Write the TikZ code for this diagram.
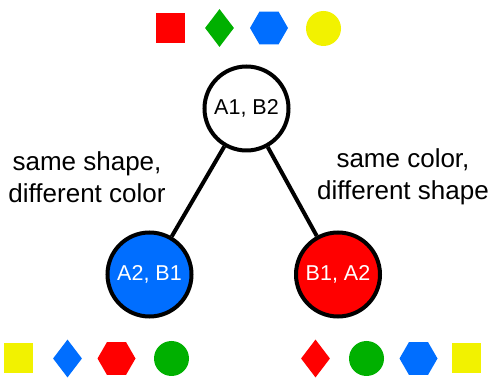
\documentclass[tikz,border=0pt]{standalone}
\usepackage{fontspec}
\setmainfont{Liberation Sans}
\usetikzlibrary{shapes.geometric}

\definecolor{cred}{RGB}{255,0,0}
\definecolor{cgreen}{RGB}{0,176,0}
\definecolor{cblue}{RGB}{0,110,255}
\definecolor{cyellow}{RGB}{242,242,0}

\tikzset{
  sq/.style={rectangle, fill=#1, inner sep=0pt, minimum width=29pt, minimum height=30pt},
  dia/.style={diamond, fill=#1, inner sep=0pt, minimum width=29pt, minimum height=38pt},
  hex/.style={regular polygon, regular polygon sides=6, fill=#1, inner sep=0pt, minimum size=38pt},
  dot/.style={circle, fill=#1, inner sep=0pt, minimum size=35pt},
  state/.style={circle, draw=black, line width=4pt, fill=#1, inner sep=0pt,
    minimum size=84pt, font=\fontsize{21.5}{24}\selectfont},
  link/.style={line width=4pt},
  caption/.style={align=center, font=\fontsize{26}{32}\selectfont}
}

\begin{document}
\begin{tikzpicture}[x=1pt, y=-1pt]
  \useasboundingbox (0,0) rectangle (493,379);

  % top row of shapes
  \node[sq=cred]     (t1) at (170.5,28) {};
  \node[dia=cgreen]  (t2) at (219.5,28) {};
  \node[hex=cblue]   (t3) at (269,28)   {};
  \node[dot=cyellow] (t4) at (323.5,28.5) {};

  % state nodes
  \node[state=white] (top) at (246.5,108.5) {A1, B2};
  \node[state=cblue, text=white] (left) at (149.5,274.5) {A2, B1};
  \node[state=cred, text=white]  (right) at (338,274.5) {B1, A2};

  \draw[link] (top) -- (left);
  \draw[link] (top) -- (right);

  % edge captions
  \node[caption] (capl) at (87,177) {same shape,\\different color};
  \node[caption] (capr) at (403,177) {same color,\\different shape};

  % bottom left row
  \node[sq=cyellow] (l1) at (18.5,358) {};
  \node[dia=cblue]  (l2) at (67.5,358.5) {};
  \node[hex=cred]   (l3) at (116.5,358.5) {};
  \node[dot=cgreen] (l4) at (171.5,358.5) {};

  % bottom right row
  \node[dia=cred]    (r1) at (315.5,358.5) {};
  \node[dot=cgreen]  (r2) at (366.5,358.5) {};
  \node[hex=cblue]   (r3) at (418.5,358.5) {};
  \node[sq=cyellow]  (r4) at (466.5,358) {};
\end{tikzpicture}
\end{document}
